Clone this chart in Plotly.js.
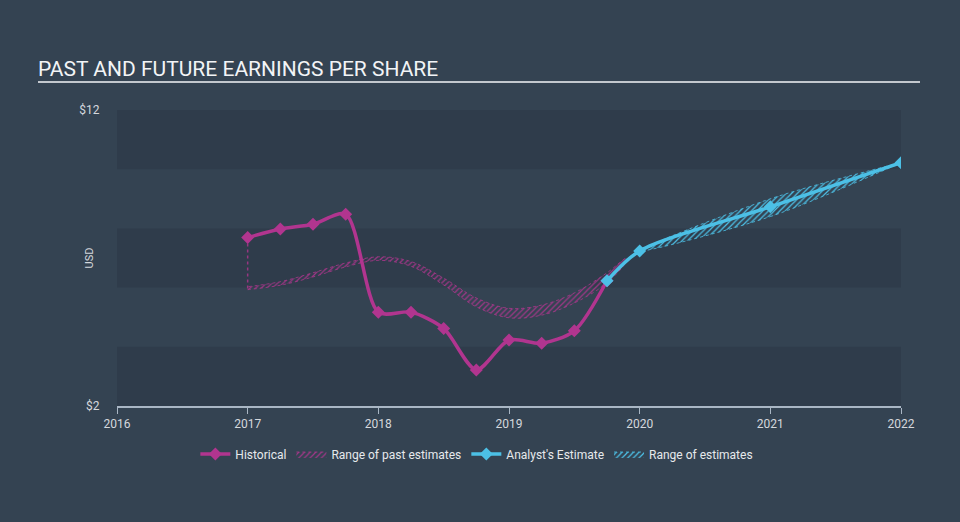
<!DOCTYPE html>
<html>
<head>
<meta charset="utf-8">
<script src="https://cdn.plot.ly/plotly-3.0.1.min.js"></script>
<style>html,body{margin:0;padding:0;background:#344352;}#chart{width:960px;height:522px;}</style>
</head>
<body>
<div id="chart"></div>
<script>
// Historical EPS (quarterly)
const histX = [2017.0, 2017.25, 2017.5, 2017.75, 2018.0, 2018.25, 2018.5, 2018.75, 2019.0, 2019.25, 2019.5, 2019.75];
const histY = [7.69, 7.98, 8.14, 8.48, 5.17, 5.17, 4.62, 3.22, 4.23, 4.12, 4.54, 6.23];

// Analyst's estimate
const estX = [2019.75, 2020.0, 2021.0, 2022.0];
const estY = [6.23, 7.24, 8.73, 10.22];

// Range of past estimates
const pastRangeX = [2017.0, 2017.25, 2017.5, 2017.75, 2018.0, 2018.25, 2018.5, 2018.75, 2019.0, 2019.25, 2019.5, 2019.75, 2019.9];
const pastRangeLow = [5.93, 6.08, 6.36, 6.70, 6.92, 6.72, 6.09, 5.35, 4.98, 5.07, 5.48, 6.16, 6.90];
const pastRangeHigh = [6.03, 6.20, 6.50, 6.83, 7.04, 6.88, 6.32, 5.65, 5.30, 5.41, 5.82, 6.50, 7.00];

// Range of future estimates
const futRangeX = [2020.0, 2021.0, 2022.0];
const futRangeLow = [7.24, 8.40, 10.22];
const futRangeHigh = [7.24, 9.00, 10.22];

// Axis ticks
const xTicks = [2016, 2017, 2018, 2019, 2020, 2021, 2022];
const yTicks = [2, 12];
const yTickText = ['$2', '$12'];
const bandRanges = [[2, 4], [6, 8], [10, 12]];

const MAG = '#b1358f';
const CYAN = '#4cc0e6';

function poly(xs, lo, hi) {
  return { x: xs.concat(xs.slice().reverse()), y: lo.concat(hi.slice().reverse()) };
}
const pp = poly(pastRangeX, pastRangeLow, pastRangeHigh);
const fp = poly(futRangeX, futRangeLow, futRangeHigh);

const traces = [
  {
    x: pp.x, y: pp.y, type: 'scatter', mode: 'lines', fill: 'toself',
    name: 'Range of past estimates', legendrank: 2,
    line: { color: 'rgba(177,53,143,0.75)', width: 1, dash: 'dot', shape: 'spline' },
    fillcolor: 'rgba(0,0,0,0)',
    fillpattern: { shape: '/', fgcolor: 'rgba(177,53,143,0.85)', bgcolor: 'rgba(0,0,0,0)', size: 4, solidity: 0.3 },
    hoverinfo: 'skip'
  },
  {
    x: [histX[0], histX[0]], y: [histY[0], pastRangeLow[0]], type: 'scatter', mode: 'lines',
    line: { color: 'rgba(177,53,143,0.8)', width: 1.5, dash: 'dot' }, showlegend: false, hoverinfo: 'skip'
  },
  {
    x: fp.x, y: fp.y, type: 'scatter', mode: 'lines', fill: 'toself',
    name: 'Range of estimates', legendrank: 4,
    line: { color: 'rgba(76,192,230,0.8)', width: 1, dash: 'dot', shape: 'spline' },
    fillcolor: 'rgba(0,0,0,0)',
    fillpattern: { shape: '/', fgcolor: CYAN, bgcolor: 'rgba(0,0,0,0)', size: 4, solidity: 0.3 },
    hoverinfo: 'skip'
  },
  {
    x: histX, y: histY, type: 'scatter', mode: 'lines+markers', name: 'Historical', legendrank: 1,
    line: { color: MAG, width: 3.5, shape: 'spline', smoothing: 0.8 },
    marker: { symbol: 'diamond', size: 10, color: MAG }
  },
  {
    x: estX, y: estY, type: 'scatter', mode: 'lines+markers', name: "Analyst's Estimate", legendrank: 3,
    line: { color: CYAN, width: 3.5, shape: 'spline', smoothing: 0.8 },
    marker: { symbol: 'diamond', size: 10, color: CYAN }
  }
];

const shapes = bandRanges.map(r => ({
  type: 'rect', xref: 'x', yref: 'y', x0: xTicks[0], x1: xTicks[xTicks.length - 1], y0: r[0], y1: r[1],
  fillcolor: '#2f3c4b', line: { width: 0 }, layer: 'below'
}));
shapes.push({
  type: 'line', xref: 'paper', yref: 'paper', x0: (38 - 117) / 784, x1: (920 - 117) / 784,
  y0: (406 - 82) / 296, y1: (406 - 82) / 296, line: { color: '#c3c8ce', width: 2 }
});

const layout = {
  width: 960, height: 522,
  paper_bgcolor: '#344352', plot_bgcolor: '#344352',
  margin: { l: 117, r: 59, t: 110, b: 116 },
  font: { family: 'Roboto, "Open Sans", sans-serif', color: '#d4d8dd', size: 12 },
  title: {
    text: 'PAST AND FUTURE EARNINGS PER SHARE',
    xref: 'container', yref: 'container', x: 38 / 960, xanchor: 'left',
    y: 1 - 69 / 522, yanchor: 'middle',
    font: { family: 'Roboto, sans-serif', size: 21, color: '#f2f4f6' }
  },
  xaxis: {
    range: [2016, 2022], tickvals: xTicks, ticktext: xTicks.map(String),
    showgrid: false, zeroline: false, showline: true, linecolor: '#a9b6c4', linewidth: 1.5,
    ticks: 'outside', ticklen: 6, tickcolor: '#a9b6c4', tickwidth: 1,
    tickfont: { size: 12, color: '#d4d8dd' }, fixedrange: true
  },
  yaxis: {
    range: [2, 12], tickvals: yTicks, ticktext: yTickText,
    showgrid: false, zeroline: false, showline: false,
    ticks: 'outside', ticklen: 14, tickcolor: 'rgba(0,0,0,0)',
    tickfont: { size: 12, color: '#d4d8dd' }, fixedrange: true
  },
  shapes: shapes,
  annotations: [{
    text: 'USD', xref: 'paper', yref: 'paper', x: (80 - 117) / 784, y: 0.5,
    textangle: -90, showarrow: false, font: { size: 11, color: '#d4d8dd' }
  }],
  showlegend: true,
  legend: {
    orientation: 'h', x: 0.459, xanchor: 'center', y: (406 - 454) / 296, yanchor: 'middle',
    font: { size: 12, color: '#e6e9ec' }, itemwidth: 30, bgcolor: 'rgba(0,0,0,0)', traceorder: 'normal'
  },
  hovermode: false
};

Plotly.newPlot('chart', traces, layout, { displayModeBar: false, staticPlot: true });
</script>
</body>
</html>
